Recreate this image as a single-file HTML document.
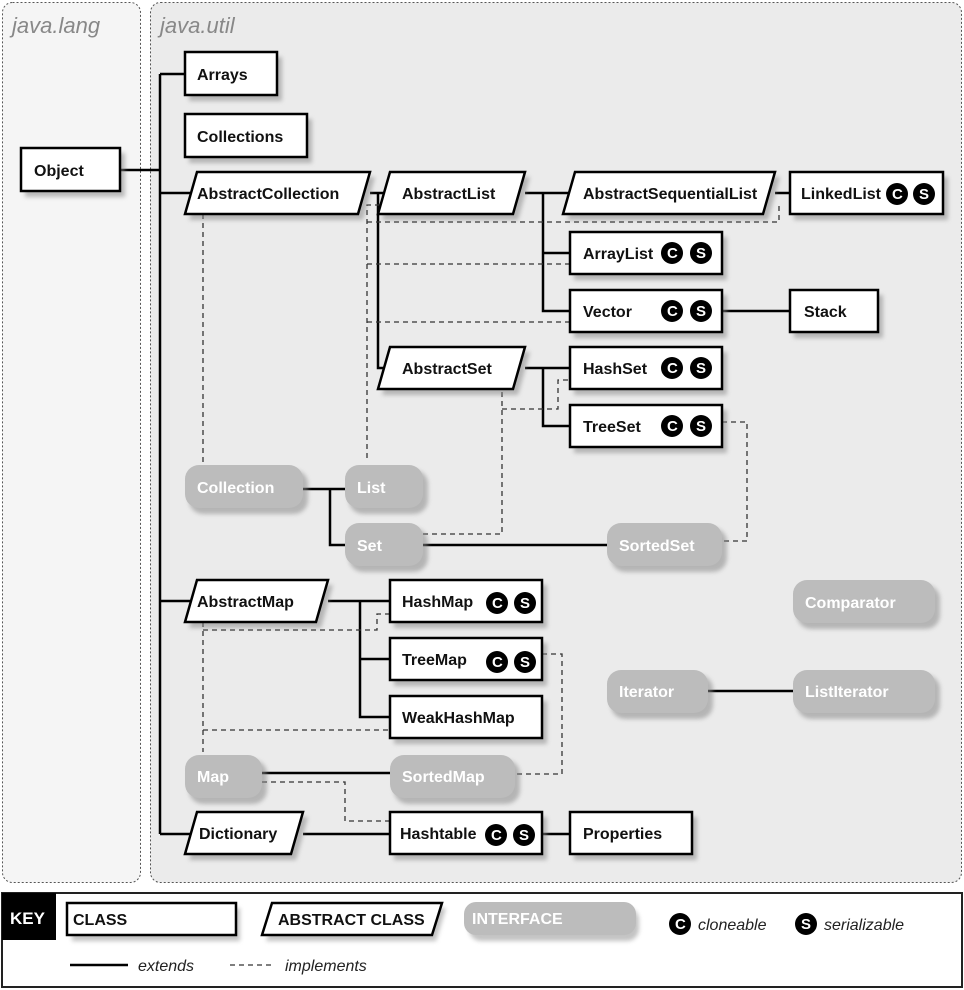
<!DOCTYPE html>
<html><head><meta charset="utf-8"><style>
html,body{margin:0;padding:0;background:#fff;}
svg{display:block;}
text{font-family:"Liberation Sans Narrow","Liberation Sans",sans-serif;font-weight:bold;font-size:16px;}
.t{fill:#111;}
.i{fill:#fff;}
.it{font-style:italic;font-weight:normal;fill:#888;font-size:22px;}
</style></head><body>
<svg width="964" height="990" viewBox="0 0 964 990" xmlns="http://www.w3.org/2000/svg">
<defs>
<filter id="sh" x="-20%" y="-20%" width="150%" height="160%"><feGaussianBlur stdDeviation="2"/></filter>
</defs>
<rect x="0" y="0" width="964" height="990" fill="#fff"/>
<!-- panels -->
<rect x="2.5" y="2.5" width="138" height="880" rx="10" fill="#f5f5f5" stroke="#555" stroke-dasharray="2,2"/>
<rect x="150.5" y="2.5" width="811" height="880" rx="10" fill="#ebebeb" stroke="#555" stroke-dasharray="2,2"/>
<text x="12" y="33" class="it">java.lang</text>
<text x="160" y="33" class="it">java.util</text>

<!-- solid connectors -->
<g stroke="#000" stroke-width="2.5" fill="none">
<path d="M120 170H160M160 74V834M160 74H185M160 193H190M160 601H190M160 834H190"/>
<path d="M370 193H390M378 193V368H385"/>
<path d="M525 193H570M543 193V311H570M543 253H570"/>
<path d="M775 193H790M722 311H790"/>
<path d="M525 368H570M543 368V426H570"/>
<path d="M303 489H345M330 489V545H345M423 545H607"/>
<path d="M708 691H793"/>
<path d="M328 601H390M360 601V717H390M360 659H390"/>
<path d="M262 773H390"/>
<path d="M303 834H390M542 834H570"/>
</g>
<!-- dashed connectors -->
<g stroke="#333" stroke-width="1.3" fill="none" stroke-dasharray="5,4">
<path d="M203 214V465"/>
<path d="M367 458V205H390M367 222H779V205M367 264H570M367 322H570"/>
<path d="M502 392V534H423M502 409H558V380H570"/>
<path d="M722 422H747V541H722"/>
<path d="M203 622V752M203 630H377V614H390M203 730H390"/>
<path d="M542 654H562V774H515"/>
<path d="M262 782H345V821H390"/>
</g>

<!-- shadows -->
<g fill="#888" opacity="0.55" filter="url(#sh)">
<rect x="25" y="153" width="100" height="44"/>
<rect x="189" y="57" width="93" height="44"/>
<rect x="189" y="119" width="123" height="44"/>
<polygon points="201,177 375,177 363,220 189,220"/>
<polygon points="394,177 530,177 518,220 382,220"/>
<polygon points="579,177 780,177 768,220 567,220"/>
<rect x="794" y="177" width="154" height="43"/>
<rect x="574" y="237" width="153" height="43"/>
<rect x="574" y="295" width="153" height="43"/>
<rect x="794" y="295" width="89" height="43"/>
<polygon points="394,352 530,352 518,395 382,395"/>
<rect x="574" y="352" width="153" height="43"/>
<rect x="574" y="410" width="153" height="43"/>
<polygon points="201,585 333,585 321,628 189,628"/>
<rect x="394" y="585" width="153" height="43"/>
<rect x="394" y="643" width="153" height="43"/>
<rect x="394" y="701" width="153" height="43"/>
<polygon points="201,817 308,817 296,860 189,860"/>
<rect x="394" y="817" width="153" height="43"/>
<rect x="574" y="817" width="123" height="43"/>
<rect x="189" y="470" width="119" height="44" rx="14"/>
<rect x="349" y="470" width="79" height="44" rx="14"/>
<rect x="349" y="528" width="79" height="44" rx="14"/>
<rect x="611" y="528" width="116" height="44" rx="14"/>
<rect x="797" y="585" width="143" height="44" rx="14"/>
<rect x="611" y="675" width="102" height="44" rx="14"/>
<rect x="797" y="675" width="143" height="44" rx="14"/>
<rect x="189" y="760" width="78" height="44" rx="14"/>
<rect x="394" y="760" width="126" height="44" rx="14"/>
</g>

<!-- classes -->
<g fill="#fff" stroke="#000" stroke-width="2.5">
<rect x="21" y="148" width="99" height="43"/>
<rect x="185" y="52" width="92" height="43"/>
<rect x="185" y="114" width="122" height="43"/>
<polygon points="197,172 370,172 358,214 185,214"/>
<polygon points="390,172 525,172 513,214 378,214"/>
<polygon points="575,172 775,172 763,214 563,214"/>
<rect x="790" y="172" width="153" height="42"/>
<rect x="570" y="232" width="152" height="42"/>
<rect x="570" y="290" width="152" height="42"/>
<rect x="790" y="290" width="88" height="42"/>
<polygon points="390,347 525,347 513,389 378,389"/>
<rect x="570" y="347" width="152" height="42"/>
<rect x="570" y="405" width="152" height="42"/>
<polygon points="197,580 328,580 316,622 185,622"/>
<rect x="390" y="580" width="152" height="42"/>
<rect x="390" y="638" width="152" height="42"/>
<rect x="390" y="696" width="152" height="42"/>
<polygon points="197,812 303,812 291,854 185,854"/>
<rect x="390" y="812" width="152" height="42"/>
<rect x="570" y="812" width="122" height="42"/>
</g>
<!-- interfaces -->
<g fill="#bcbcbc">
<rect x="185" y="465" width="118" height="43" rx="14"/>
<rect x="345" y="465" width="78" height="43" rx="14"/>
<rect x="345" y="523" width="78" height="43" rx="14"/>
<rect x="607" y="523" width="115" height="43" rx="14"/>
<rect x="793" y="580" width="142" height="43" rx="14"/>
<rect x="607" y="670" width="101" height="43" rx="14"/>
<rect x="793" y="670" width="142" height="43" rx="14"/>
<rect x="185" y="755" width="77" height="43" rx="14"/>
<rect x="390" y="755" width="125" height="43" rx="14"/>
</g>

<g class="t">
<text x="34" y="176" class="t">Object</text>
<text x="197" y="80" class="t">Arrays</text>
<text x="197" y="142" class="t">Collections</text>
<text x="197" y="199" class="t">AbstractCollection</text>
<text x="402" y="199" class="t">AbstractList</text>
<text x="583" y="199" class="t">AbstractSequentialList</text>
<text x="801" y="199" class="t">LinkedList</text>
<text x="583" y="259" class="t">ArrayList</text>
<text x="583" y="317" class="t">Vector</text>
<text x="804" y="317" class="t">Stack</text>
<text x="402" y="374" class="t">AbstractSet</text>
<text x="583" y="374" class="t">HashSet</text>
<text x="583" y="432" class="t">TreeSet</text>
<text x="197" y="607" class="t">AbstractMap</text>
<text x="402" y="607" class="t">HashMap</text>
<text x="402" y="665" class="t">TreeMap</text>
<text x="402" y="723" class="t">WeakHashMap</text>
<text x="199" y="839" class="t">Dictionary</text>
<text x="400" y="839" class="t">Hashtable</text>
<text x="583" y="839" class="t">Properties</text>
</g>
<g>
<text x="197" y="493" class="i">Collection</text>
<text x="357" y="493" class="i">List</text>
<text x="357" y="551" class="i">Set</text>
<text x="619" y="551" class="i">SortedSet</text>
<text x="805" y="608" class="i">Comparator</text>
<text x="619" y="697" class="i">Iterator</text>
<text x="805" y="697" class="i">ListIterator</text>
<text x="197" y="782" class="i">Map</text>
<text x="402" y="782" class="i">SortedMap</text>
</g>

<!-- C S badges -->
<g font-size="14">
<g transform="translate(897,194)"><circle r="11" fill="#000"/><text x="-5" y="5" class="i" style="font-size:15px">C</text><circle cx="27" r="11" fill="#000"/><text x="22" y="5" class="i" style="font-size:15px">S</text></g>
<g transform="translate(672,253)"><circle r="11" fill="#000"/><text x="-5" y="5" class="i" style="font-size:15px">C</text><circle cx="29" r="11" fill="#000"/><text x="24" y="5" class="i" style="font-size:15px">S</text></g>
<g transform="translate(672,311)"><circle r="11" fill="#000"/><text x="-5" y="5" class="i" style="font-size:15px">C</text><circle cx="29" r="11" fill="#000"/><text x="24" y="5" class="i" style="font-size:15px">S</text></g>
<g transform="translate(672,368)"><circle r="11" fill="#000"/><text x="-5" y="5" class="i" style="font-size:15px">C</text><circle cx="29" r="11" fill="#000"/><text x="24" y="5" class="i" style="font-size:15px">S</text></g>
<g transform="translate(672,426)"><circle r="11" fill="#000"/><text x="-5" y="5" class="i" style="font-size:15px">C</text><circle cx="29" r="11" fill="#000"/><text x="24" y="5" class="i" style="font-size:15px">S</text></g>
<g transform="translate(497,603)"><circle r="11" fill="#000"/><text x="-5" y="5" class="i" style="font-size:15px">C</text><circle cx="28" r="11" fill="#000"/><text x="23" y="5" class="i" style="font-size:15px">S</text></g>
<g transform="translate(497,662)"><circle r="11" fill="#000"/><text x="-5" y="5" class="i" style="font-size:15px">C</text><circle cx="28" r="11" fill="#000"/><text x="23" y="5" class="i" style="font-size:15px">S</text></g>
<g transform="translate(496,835)"><circle r="11" fill="#000"/><text x="-5" y="5" class="i" style="font-size:15px">C</text><circle cx="28" r="11" fill="#000"/><text x="23" y="5" class="i" style="font-size:15px">S</text></g>
</g>

<!-- key -->
<rect x="2" y="893" width="960" height="94" fill="#fff" stroke="#222" stroke-width="2"/>
<rect x="2" y="893" width="54" height="47" fill="#000"/>
<text x="10" y="924" class="i" style="font-size:17px">KEY</text>
<rect x="72" y="908" width="168" height="33" fill="#888" opacity="0.5" filter="url(#sh)"/>
<rect x="67" y="903" width="169" height="32" fill="#fff" stroke="#000" stroke-width="2.5"/>
<text x="73" y="925" class="t" style="font-size:16px">CLASS</text>
<polygon points="276,908 446,908 436,941 266,941" fill="#888" opacity="0.5" filter="url(#sh)"/>
<polygon points="272,903 442,903 432,935 262,935" fill="#fff" stroke="#000" stroke-width="2.5"/>
<text x="278" y="925" class="t" style="font-size:16px">ABSTRACT CLASS</text>
<rect x="469" y="908" width="170" height="33" rx="12" fill="#888" opacity="0.5" filter="url(#sh)"/>
<rect x="464" y="902" width="172" height="33" rx="12" fill="#bcbcbc"/>
<text x="472" y="924" class="i" style="font-size:16px">INTERFACE</text>
<circle cx="680" cy="924" r="11" fill="#000"/><text x="675" y="929" class="i" style="font-size:15px">C</text>
<text x="698" y="930" style="font-style:italic;font-weight:normal;fill:#222;font-size:16px">cloneable</text>
<circle cx="806" cy="924" r="11" fill="#000"/><text x="801" y="929" class="i" style="font-size:15px">S</text>
<text x="824" y="930" style="font-style:italic;font-weight:normal;fill:#222;font-size:16px">serializable</text>
<line x1="70" y1="965" x2="128" y2="965" stroke="#000" stroke-width="2.5"/>
<text x="138" y="971" style="font-style:italic;font-weight:normal;fill:#222;font-size:16px">extends</text>
<line x1="230" y1="965" x2="272" y2="965" stroke="#333" stroke-width="1.3" stroke-dasharray="5,4"/>
<text x="285" y="971" style="font-style:italic;font-weight:normal;fill:#222;font-size:16px">implements</text>
</svg>
</body></html>
